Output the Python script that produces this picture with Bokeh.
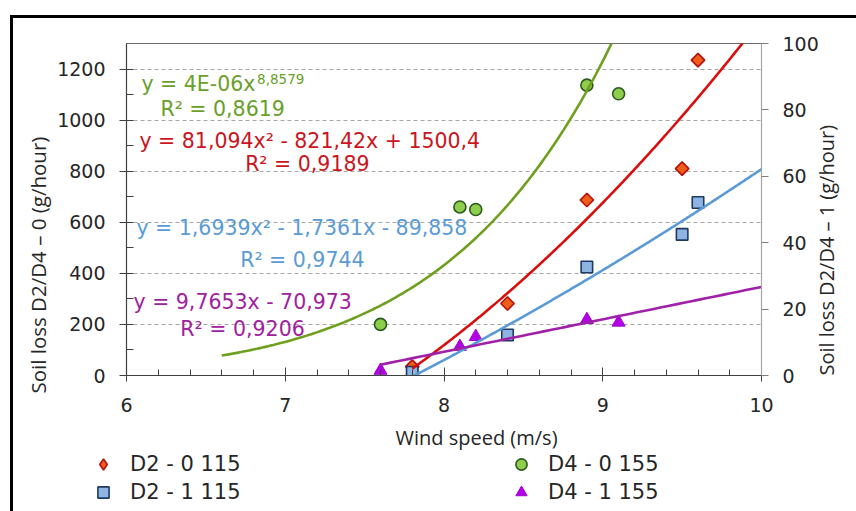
import math
import numpy as np
from bokeh.plotting import figure
from bokeh.layouts import column
from bokeh.models import (Range1d, LinearAxis, FixedTicker, Label, Legend,
                          LegendItem, Title)
from bokeh.embed import file_html
from bokeh.resources import INLINE

# ---------------- data ----------------
x_d2 = [7.8, 8.4, 8.9, 9.5, 9.6]
d2_0 = [35, 282, 687, 810, 1235]          # left axis
d2_1 = [1.0, 12.2, 32.7, 42.5, 52.1]      # right axis
x_d4 = [7.6, 8.1, 8.2, 8.9, 9.1]
d4_0 = [200, 660, 650, 1137, 1103]        # left axis
d4_1 = [1.5, 8.7, 11.7, 16.8, 16.0]       # right axis

series_labels = ["D2 - 0 115", "D2 - 1 115", "D4 - 0 155", "D4 - 1 155"]
x_ticks = [6, 7, 8, 9, 10]
x_minor = [6.2, 6.4, 6.6, 6.8, 7.2, 7.4, 7.6, 7.8, 8.2, 8.4, 8.6, 8.8,
           9.2, 9.4, 9.6, 9.8]
left_ticks = [0, 200, 400, 600, 800, 1000, 1200]
left_minor = [100, 300, 500, 700, 900, 1100]
right_ticks = [0, 20, 40, 60, 80, 100]

# trendline equations shown on the chart
red_coef = [81.094, -821.42, 1500.4]
blue_coef = [1.6939, -1.7361, -89.858]
purple_coef = [9.7653, -70.973]
eq_green = "y = 4E-06x"
eq_green_exp = "8,8579"
r2_green = "R\u00b2 = 0,8619"
eq_red = "y = 81,094x\u00b2 - 821,42x + 1500,4"
r2_red = "R\u00b2 = 0,9189"
eq_blue = "y = 1,6939x\u00b2 - 1,7361x - 89,858"
r2_blue = "R\u00b2 = 0,9744"
eq_purple = "y = 9,7653x - 70,973"
r2_purple = "R\u00b2 = 0,9206"

x_title = "Wind speed (m/s)"
yl_title = "Soil loss D2/D4 \u2013 0 (g/hour)"
yr_title = "Soil loss D2/D4 \u2013 1 (g/hour)"

# ---------------- layout (page pixels) ----------------
OX, OY = 13, 18                       # layout origin on the page
PL, PR, PT, PB = 126, 763, 43, 375    # plot frame on the page
SPLIT = 417                           # page y where the legend strip starts
W = 856 - OX
H_MAIN = SPLIT - OY
H_LEG = 511 - SPLIT
XMIN, XMAX, YMIN, YMAX = 6, 10, 0, 1300


def dx(px):
    return XMIN + (px - PL) / (PR - PL) * (XMAX - XMIN)


def dy(py):
    return YMIN + (PB - py) / (PB - PT) * (YMAX - YMIN)


p = figure(width=W, height=H_MAIN, x_range=Range1d(XMIN, XMAX),
           y_range=Range1d(YMIN, YMAX), output_backend="svg",
           toolbar_location=None, min_border_left=PL - OX,
           min_border_right=856 - PR, min_border_top=PT - OY,
           min_border_bottom=SPLIT - PB)
p.extra_y_ranges = {"right": Range1d(0, 100)}
p.background_fill_color = "white"
p.border_fill_color = "white"
p.outline_line_color = "#6b6b6b"
p.outline_line_width = 1

TICK_FONT = "DejaVu Sans"
TXT = "#262626"

# x axis
xa = p.xaxis[0]
xa.ticker = FixedTicker(ticks=x_ticks, minor_ticks=x_minor)
xa.axis_line_color = "#404040"
xa.axis_line_width = 1.2
xa.major_tick_line_color = "#404040"
xa.minor_tick_line_color = "#404040"
xa.major_tick_in = 8
xa.major_tick_out = 6
xa.minor_tick_in = 6
xa.minor_tick_out = 0
xa.major_label_text_font = TICK_FONT
xa.major_label_text_font_size = "19px"
xa.major_label_text_color = TXT
xa.major_label_standoff = 16

# left axis
ya = p.yaxis[0]
ya.ticker = FixedTicker(ticks=left_ticks, minor_ticks=left_minor)
ya.axis_line_color = "#404040"
ya.axis_line_width = 1.2
ya.major_tick_line_color = "#404040"
ya.minor_tick_line_color = "#404040"
ya.major_tick_in = 7
ya.major_tick_out = 7
ya.minor_tick_in = 7
ya.minor_tick_out = 0
ya.major_label_text_font = TICK_FONT
ya.major_label_text_font_size = "19px"
ya.major_label_text_color = TXT
ya.major_label_standoff = 14

# right axis
ra = LinearAxis(y_range_name="right",
                ticker=FixedTicker(ticks=right_ticks, minor_ticks=[]))
ra.axis_line_color = "#a6a6a6"
ra.axis_line_width = 1.2
ra.major_tick_line_color = "#7f7f7f"
ra.major_tick_in = 0
ra.major_tick_out = 7
ra.minor_tick_line_color = None
ra.major_label_text_font = TICK_FONT
ra.major_label_text_font_size = "19px"
ra.major_label_text_color = TXT
ra.major_label_standoff = 14
ra.axis_label = yr_title
ra.axis_label_text_font = "Open Sans"
ra.axis_label_text_font_size = "20px"
ra.axis_label_text_font_style = "normal"
ra.axis_label_text_color = TXT
ra.axis_label_standoff = 5
if hasattr(ra, "axis_label_orientation"):
    ra.axis_label_orientation = math.pi / 2
if hasattr(ra, "axis_label_align"):
    ra.axis_label_align = "start"
p.add_layout(ra, "right")

# grid
p.xgrid.visible = False
p.ygrid.ticker = FixedTicker(ticks=left_ticks[1:])
p.ygrid.grid_line_color = "#a6a6a6"
p.ygrid.grid_line_dash = "4 3"
p.ygrid.grid_line_width = 1

# ---------------- markers ----------------
RED_F, RED_L = "#f25c19", "#b01212"
GRN_F, GRN_L = "#8fce4c", "#2a5a1c"
BLU_F, BLU_L = "#8db4e2", "#1f3a60"
PUR_F, PUR_L = "#b400e6", "#a000d0"

p.scatter(x_d2, d2_0, marker="square", angle=math.pi / 4, size=9.5,
          fill_color=RED_F, line_color=RED_L, line_width=1.6)
p.scatter(x_d4, d4_0, marker="circle", size=12,
          fill_color=GRN_F, line_color=GRN_L, line_width=1.6)
p.scatter(x_d2, d2_1, marker="square", size=11.5,
          fill_color=BLU_F, line_color=BLU_L, line_width=1.6,
          y_range_name="right")
p.scatter(x_d4, d4_1, marker="triangle", size=13,
          fill_color=PUR_F, line_color=PUR_L, line_width=1,
          y_range_name="right")

# ---------------- trendlines ----------------
# green: power trendline (least squares on log-log), backward forecast 1 unit
lb, la = np.polyfit(np.log(x_d4), np.log(d4_0), 1)
xg = np.linspace(min(x_d4) - 1.0, XMAX, 200)
p.line(xg, np.exp(la) * xg ** lb, line_color="#6e9f1e", line_width=2.6)

xr = np.linspace(min(x_d2), XMAX, 200)
p.line(xr, np.polyval(red_coef, xr), line_color="#d90d0d", line_width=2.6)

xb = np.linspace(min(x_d2), XMAX, 200)
p.line(xb, np.polyval(blue_coef, xb), line_color="#5b9bd5", line_width=2.6,
       y_range_name="right")

xp = np.linspace(min(x_d4), XMAX, 50)
p.line(xp, np.polyval(purple_coef, xp), line_color="#a020a8", line_width=2.6,
       y_range_name="right")

# ---------------- equation texts (inside the frame) ----------------
EQ_FONT = "DejaVu Sans"


def lab(text, px, py, size, color):
    p.add_layout(Label(x=dx(px), y=dy(py), text=text, text_font=EQ_FONT,
                       text_font_size=f"{size}px", text_color=color,
                       text_align="left", text_baseline="middle"))


GREEN_T, RED_T, BLUE_T, PURPLE_T = "#68a02a", "#cc1421", "#5b9bd5", "#a0219e"
lab(eq_green, 141, 83, 20.5, GREEN_T)
lab(eq_green_exp, 257, 78, 13.5, GREEN_T)
lab(r2_green, 160, 108, 20.5, GREEN_T)
lab(eq_red, 139, 140, 20.5, RED_T)
lab(r2_red, 245, 163, 20.5, RED_T)
lab(eq_blue, 136, 227, 20.5, BLUE_T)
lab(r2_blue, 240, 259, 20.5, BLUE_T)
lab(eq_purple, 133, 301, 20.5, PURPLE_T)
lab(r2_purple, 180, 328, 20.5, PURPLE_T)

# left axis title (side panel); starts 18px below the frame bottom
p.add_layout(Title(text=yl_title, align="left", vertical_align="middle",
                   offset=-18, standoff=3, text_font="Open Sans",
                   text_font_size="20.5px", text_font_style="normal",
                   text_color=TXT), "left")

# ---------------- legend strip (second figure, pixel coordinates) -------
q = figure(width=W, height=H_LEG, x_range=Range1d(0, W),
           y_range=Range1d(H_LEG, 0), output_backend="svg",
           toolbar_location=None, x_axis_type=None, y_axis_type=None,
           min_border_left=0, min_border_right=0, min_border_top=0,
           min_border_bottom=0)
q.outline_line_color = None
q.background_fill_color = "white"
q.border_fill_color = "white"
q.xgrid.visible = False
q.ygrid.visible = False
for fig in (p, q):
    if hasattr(fig, "frame_align"):
        fig.frame_align = False

q.add_layout(Label(x=476 - OX, y=437 - SPLIT, text=x_title,
                   text_font="Open Sans", text_font_size="20px",
                   text_color=TXT, text_align="center",
                   text_baseline="middle"))

# hidden renderers that only provide the legend swatches
lg_red = q.scatter(x_d2, d2_0, marker="diamond", fill_color=RED_F,
                   line_color=RED_L, line_width=1.6, visible=False)
lg_blue = q.scatter(x_d2, d2_1, marker="square", fill_color=BLU_F,
                    line_color=BLU_L, line_width=1.6, visible=False)
lg_green = q.scatter(x_d4, d4_0, marker="circle", fill_color=GRN_F,
                     line_color=GRN_L, line_width=1.6, visible=False)
lg_purple = q.scatter(x_d4, d4_1, marker="triangle", fill_color=PUR_F,
                      line_color=PUR_L, line_width=1, visible=False)

GLYPH_H = 28
LEG_H = 2 * GLYPH_H
LEG_TOP = 477.5 - GLYPH_H - SPLIT      # rows centred near y=464 and y=492


def make_legend(items, glyph_left_page):
    lg = Legend(items=items, orientation="vertical",
                location=(glyph_left_page - OX, H_LEG - LEG_TOP - LEG_H),
                glyph_width=30, glyph_height=GLYPH_H, spacing=0,
                label_standoff=12, padding=0, margin=0,
                label_text_font="DejaVu Sans", label_text_font_size="21px",
                label_text_color=TXT, background_fill_alpha=0,
                border_line_alpha=0, inactive_fill_alpha=0)
    q.add_layout(lg, "center")


make_legend([LegendItem(label=series_labels[0], renderers=[lg_red]),
             LegendItem(label=series_labels[1], renderers=[lg_blue])], 88)
make_legend([LegendItem(label=series_labels[2], renderers=[lg_green]),
             LegendItem(label=series_labels[3], renderers=[lg_purple])], 506)

page = column(p, q, spacing=0, margin=(OY, 0, 0, OX),
              styles={"outline": "3.5px solid black"})

open("out.html", "w").write(file_html(page, INLINE))
